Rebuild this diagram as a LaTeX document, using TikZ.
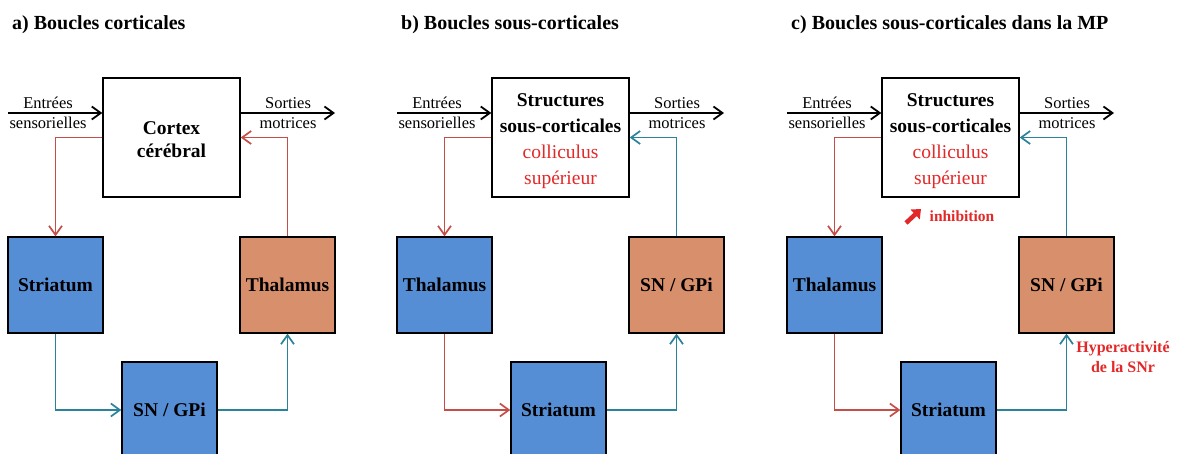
\documentclass[tikz,border=0pt]{standalone}
\usepackage{fontspec}
\setmainfont{Liberation Serif}
\usetikzlibrary{arrows.meta}

\definecolor{boxblue}{RGB}{85,142,213}
\definecolor{boxorange}{RGB}{216,144,108}
\definecolor{linered}{RGB}{197,78,72}
\definecolor{lineteal}{RGB}{42,130,155}
\definecolor{textred}{RGB}{226,40,40}

\begin{document}
\begin{tikzpicture}[x=1pt, y=-1pt,
    every node/.style={inner sep=0pt, font=\fontsize{19.5}{24}\selectfont\bfseries},
    titre/.style={anchor=base west, font=\fontsize{20}{24}\selectfont\bfseries},
    bigbox/.style={draw, line width=1.4pt, minimum width=137pt, minimum height=119pt, align=center},
    bluebox/.style={draw, line width=1.4pt, fill=boxblue, minimum width=95pt, minimum height=96pt},
    orangebox/.style={draw, line width=1.4pt, fill=boxorange, minimum width=95pt, minimum height=96pt},
    boxtext/.style={align=center, font=\fontsize{19.5}{26}\selectfont\bfseries},
    io/.style={font=\fontsize{16.5}{20}\selectfont},
    note/.style={text=textred, align=center, font=\fontsize{16}{20}\selectfont\bfseries},
    barb/.style={-{Straight Barb[length=9pt, width=13pt]}},
    ioarrow/.style={barb, line width=1.8pt},
    redarrow/.style={barb, draw=linered, line width=1.7pt},
    tealarrow/.style={barb, draw=lineteal, line width=1.7pt}]

    \useasboundingbox (0,0) rectangle (1177,454);

    % a) Boucles corticales
    \node[titre] (titreA) at (12,30) {a) Boucles corticales};
    \node[bigbox] (cortexA) at (171.5,137.5) {};
    \node[boxtext, font=\fontsize{19.5}{23}\selectfont\bfseries] (cortexTextA) at (171.5,139.5) {Cortex\\cérébral};
    \node[bluebox] (striatumA) at (55.5,285) {Striatum};
    \node[orangebox] (thalamusA) at (287.5,285) {Thalamus};
    \node[bluebox] (snA) at (169.5,410) {SN / GPi};

    \coordinate (entreeA) at (8,113);
    \coordinate (sortieA) at (335,113);
    \draw[ioarrow] (entreeA) -- (entreeA -| cortexA.west);
    \draw[ioarrow] (cortexA.east |- sortieA) -- (sortieA);
    \node[io] (entA) at (48,103) {Entrées};
    \node[io] (sensA) at (48,123) {sensorielles};
    \node[io] (sortA) at (288,103) {Sorties};
    \node[io] (motA) at (288,123) {motrices};

    \draw[redarrow] (cortexA.west) -| (striatumA.north);
    \draw[redarrow] (thalamusA.north) |- (cortexA.east);
    \draw[tealarrow] (striatumA.south) |- (snA.west);
    \draw[tealarrow] (snA.east) -| (thalamusA.south);

    % b) Boucles sous-corticales
    \node[titre] (titreB) at (401,30) {b) Boucles sous-corticales};
    \node[bigbox] (structB) at (560.5,137.5) {};
    \node[boxtext] (structTextB) at (560.5,141.5) {Structures\\sous-corticales\\
        \textcolor{textred}{\mdseries colliculus}\\\textcolor{textred}{\mdseries supérieur}};
    \node[bluebox] (thalamusB) at (444.5,285) {Thalamus};
    \node[orangebox] (snB) at (676.5,285) {SN / GPi};
    \node[bluebox] (striatumB) at (558.5,410) {Striatum};

    \coordinate (entreeB) at (397,113);
    \coordinate (sortieB) at (724,113);
    \draw[ioarrow] (entreeB) -- (entreeB -| structB.west);
    \draw[ioarrow] (structB.east |- sortieB) -- (sortieB);
    \node[io] (entB) at (437,103) {Entrées};
    \node[io] (sensB) at (437,123) {sensorielles};
    \node[io] (sortB) at (677,103) {Sorties};
    \node[io] (motB) at (677,123) {motrices};

    \draw[redarrow] (structB.west) -| (thalamusB.north);
    \draw[tealarrow] (snB.north) |- (structB.east);
    \draw[redarrow] (thalamusB.south) |- (striatumB.west);
    \draw[tealarrow] (striatumB.east) -| (snB.south);

    % c) Boucles sous-corticales dans la MP
    \node[titre] (titreC) at (791,30) {c) Boucles sous-corticales dans la MP};
    \node[bigbox] (structC) at (950.5,137.5) {};
    \node[boxtext] (structTextC) at (950.5,141.5) {Structures\\sous-corticales\\
        \textcolor{textred}{\mdseries colliculus}\\\textcolor{textred}{\mdseries supérieur}};
    \node[bluebox] (thalamusC) at (834.5,285) {Thalamus};
    \node[orangebox] (snC) at (1066.5,285) {SN / GPi};
    \node[bluebox] (striatumC) at (948.5,410) {Striatum};

    \coordinate (entreeC) at (787,113);
    \coordinate (sortieC) at (1114,113);
    \draw[ioarrow] (entreeC) -- (entreeC -| structC.west);
    \draw[ioarrow] (structC.east |- sortieC) -- (sortieC);
    \node[io] (entC) at (827,103) {Entrées};
    \node[io] (sensC) at (827,123) {sensorielles};
    \node[io] (sortC) at (1067,103) {Sorties};
    \node[io] (motC) at (1067,123) {motrices};

    \draw[redarrow] (structC.west) -| (thalamusC.north);
    \draw[tealarrow] (snC.north) |- (structC.east);
    \draw[redarrow] (thalamusC.south) |- (striatumC.west);
    \draw[tealarrow] (striatumC.east) -| (snC.south);

    % annotations MP
    \coordinate (inhA) at (906,223);
    \coordinate (inhB) at (921,209);
    \draw[line width=4.5pt, draw=textred, -{Triangle[length=8pt, width=13pt, fill=textred]}] (inhA) -- (inhB);
    \node[note, font=\fontsize{15.5}{20}\selectfont\bfseries] (inhib) at (962,216) {inhibition};
    \node[note] (hyper) at (1123,357) {Hyperactivité\\de la SNr};
\end{tikzpicture}
\end{document}
